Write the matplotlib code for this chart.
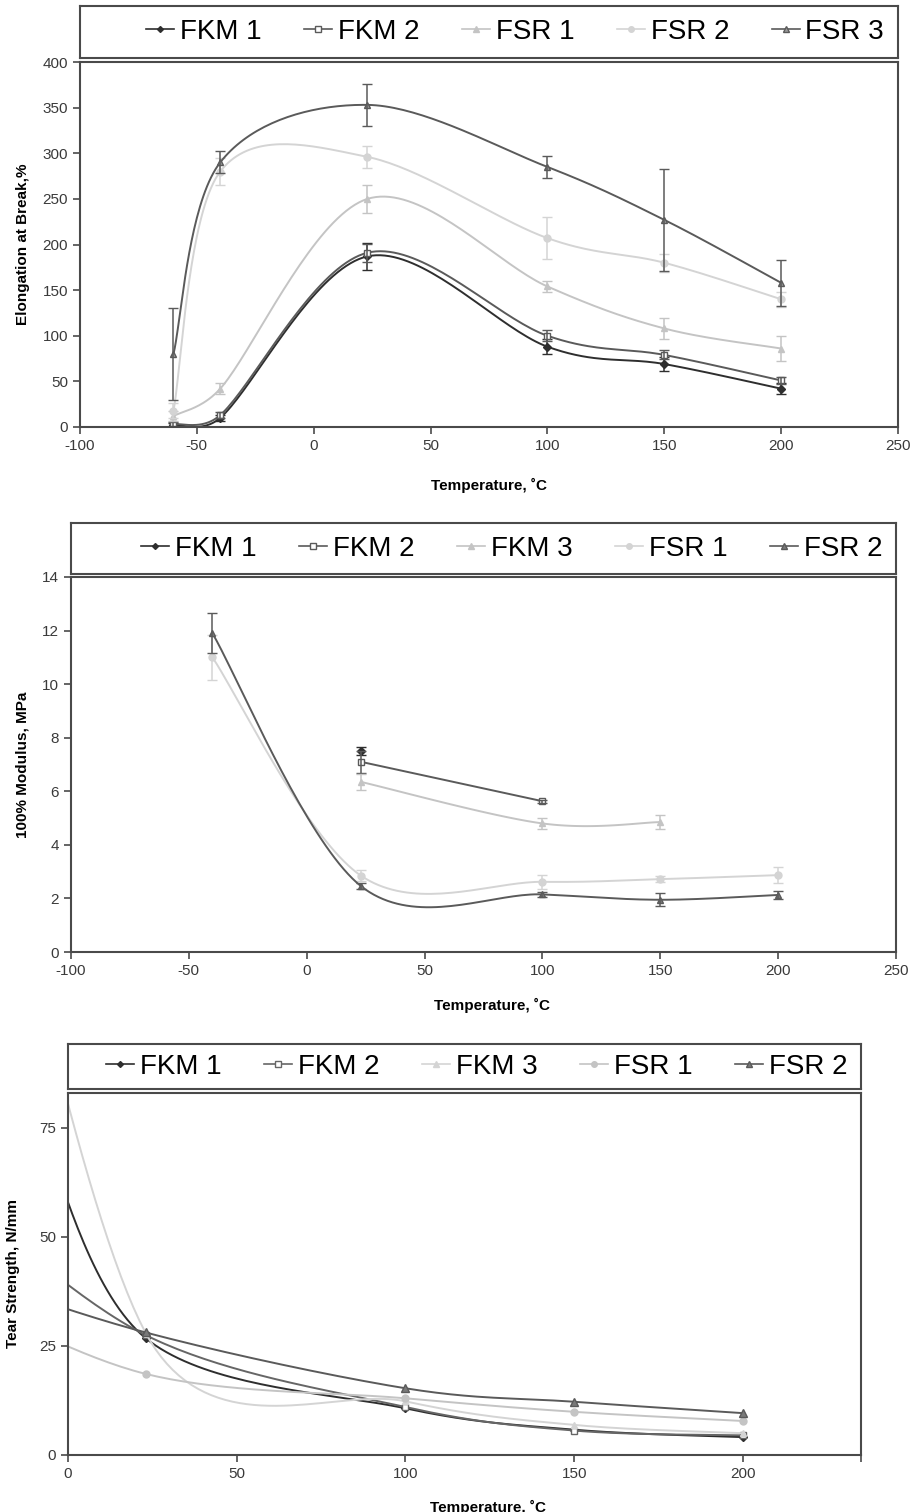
import numpy as np
import matplotlib
matplotlib.use("Agg")
import matplotlib.pyplot as plt
from matplotlib.lines import Line2D

plt.rcParams['font.family'] = ['Liberation Sans', 'DejaVu Sans']
plt.rcParams['axes.unicode_minus'] = False

# === data: elongation at break ===
elong_x = [-60, -40, 23, 100, 150, 200]
elong_names = ['FKM 1', 'FKM 2', 'FSR 1', 'FSR 2', 'FSR 3']
elong_fkm1 = [2, 10, 187, 88, 69, 42]
elong_fkm1_err = [2, 3, 15, 8, 8, 6]
elong_fkm2 = [3, 13, 191, 100, 79, 51]
elong_fkm2_err = [2, 3, 10, 6, 5, 4]
elong_fsr1 = [12, 42, 250, 154, 108, 86]
elong_fsr1_err = [5, 6, 15, 6, 12, 14]
elong_fsr2 = [18, 280, 296, 207, 180, 140]
elong_fsr2_err = [8, 15, 12, 23, 10, 8]
elong_fsr3 = [80, 290, 353, 285, 227, 158]
elong_fsr3_err = [50, 12, 23, 12, 56, 25]

# === data: 100% modulus ===
mod_names = ['FKM 1', 'FKM 2', 'FKM 3', 'FSR 1', 'FSR 2']
mod_fkm1_x = [23]
mod_fkm1 = [7.5]
mod_fkm1_err = [0.15]
mod_fkm2_x = [23, 100]
mod_fkm2 = [7.1, 5.63]
mod_fkm2_err = [0.4, 0.05]
mod_fkm3_x = [23, 100, 150]
mod_fkm3 = [6.35, 4.8, 4.85]
mod_fkm3_err = [0.3, 0.2, 0.25]
mod_fsr1_x = [-40, 23, 100, 150, 200]
mod_fsr1 = [11.0, 2.85, 2.62, 2.72, 2.87]
mod_fsr1_err = [0.85, 0.2, 0.25, 0.1, 0.3]
mod_fsr2_x = [-40, 23, 100, 150, 200]
mod_fsr2 = [11.9, 2.46, 2.15, 1.95, 2.13]
mod_fsr2_err = [0.75, 0.1, 0.1, 0.25, 0.15]

# === data: tear strength (first point sits left of the visible axis) ===
tear_names = ['FKM 1', 'FKM 2', 'FKM 3', 'FSR 1', 'FSR 2']
tear_fkm1_x = [-10, 23, 100, 150, 200]
tear_fkm1 = [80, 26.8, 10.7, 5.8, 4.1]
tear_fkm2_x = [-40, 23, 100, 150, 200]
tear_fkm2 = [65, 27.5, 11.0, 5.6, 4.5]
tear_fkm3_x = [-40, 23, 100, 150, 200]
tear_fkm3 = [215, 28.0, 12.3, 6.9, 5.0]
tear_fsr1_x = [-40, 23, 100, 150, 200]
tear_fsr1 = [40, 18.6, 13.0, 9.9, 7.8]
tear_fsr2_x = [-40, 23, 100, 150, 200]
tear_fsr2 = [44, 28.1, 15.3, 12.2, 9.6]

W, H = 915, 1512
DARK = '#2e2e2e'
MID = '#5a5a5a'
LIGHT = '#c4c4c4'
LIGHTER = '#d4d4d4'
SPINE = '#4a4a4a'


def rect(l, t, r, b):
    return [l / W, 1 - b / H, (r - l) / W, (b - t) / H]


def smooth(ax, x, y, n=40):
    # excel-like smoothed line, bezier control points worked out in pixel space
    p = np.column_stack([x, y]).astype(float)
    if len(p) < 3:
        return p[:, 0], p[:, 1]
    bb = ax.get_position()
    x0, x1 = ax.get_xlim()
    y0, y1 = ax.get_ylim()
    sc = np.array([bb.width * W / (x1 - x0), bb.height * H / (y1 - y0)])
    q = p * sc
    out = []
    t = np.linspace(0, 1, n)[:, None]
    for i in range(len(q) - 1):
        q0 = q[i - 1] if i > 0 else q[i]
        q1, q2 = q[i], q[i + 1]
        q3 = q[i + 2] if i + 2 < len(q) else q[i + 1]
        d12 = np.linalg.norm(q2 - q1)
        d02 = np.linalg.norm(q2 - q0)
        d13 = np.linalg.norm(q3 - q1)
        f1 = 1 / 6 if d02 / 6 < d12 / 2 else d12 / (2 * d02)
        f2 = 1 / 6 if d13 / 6 < d12 / 2 else d12 / (2 * d13)
        c1 = q1 + (q2 - q0) * f1
        c2 = q2 - (q3 - q1) * f2
        seg = (1 - t) ** 3 * q1 + 3 * (1 - t) ** 2 * t * c1 + 3 * (1 - t) * t ** 2 * c2 + t ** 3 * q2
        out.append(seg)
    out = np.vstack(out) / sc
    return out[:, 0], out[:, 1]


def style_axes(ax):
    for s in ax.spines.values():
        s.set_color(SPINE)
        s.set_linewidth(1.5)
    ax.tick_params(direction='out', length=5, width=1.2, color=SPINE,
                   labelsize=11, labelcolor='#3a3a3a')


def legend_box(rc, handles, labels):
    lax = fig.add_axes(rect(*rc))
    lax.set_xticks([])
    lax.set_yticks([])
    for s in lax.spines.values():
        s.set_color(SPINE)
        s.set_linewidth(1.5)
    lax.legend(handles, labels, loc='center right', ncol=5, frameon=False,
               fontsize=20, handlelength=1.0, handletextpad=0.2,
               columnspacing=1.55, borderaxespad=0.1)


def series(ax, x, y, err, color, marker, mfc, ms=5):
    xs, ys = smooth(ax, x, y)
    ax.plot(xs, ys, color=color, lw=1.4)
    ax.plot(x, y, ls='none', marker=marker, ms=ms, color=color, mfc=mfc, mec=color)
    if err is not None:
        ax.errorbar(x, y, yerr=err, fmt='none', ecolor=color, elinewidth=1.1, capsize=3.5)
    return Line2D([], [], color=color, lw=1.2, marker=marker, ms=ms - 1, mfc=mfc, mec=color)


fig = plt.figure(figsize=(W / 100, H / 100), dpi=100)

# === panel 1: elongation ===
ax1 = fig.add_axes(rect(80, 62, 898, 427))
ax1.set_xlim(-100, 250)
ax1.set_ylim(0, 400)
h = []
h.append(series(ax1, elong_x, elong_fkm1, elong_fkm1_err, DARK, 'D', DARK, 4))
h.append(series(ax1, elong_x, elong_fkm2, elong_fkm2_err, MID, 's', 'white'))
h.append(series(ax1, elong_x, elong_fsr1, elong_fsr1_err, LIGHT, '^', LIGHT))
h.append(series(ax1, elong_x, elong_fsr2, elong_fsr2_err, LIGHTER, 'o', LIGHTER))
h.append(series(ax1, elong_x, elong_fsr3, elong_fsr3_err, MID, '^', '#9a9a9a'))
ax1.set_xlim(-100, 250)
ax1.set_ylim(0, 400)
ax1.set_xticks(range(-100, 251, 50))
ax1.set_yticks(range(0, 401, 50))
style_axes(ax1)
ax1.set_ylabel('Elongation at Break,%', fontsize=11, fontweight='bold')
ax1.yaxis.set_label_coords(-0.061, 0.5)
ax1.set_xlabel('Temperature, ˚C', fontsize=11, fontweight='bold')
ax1.xaxis.set_label_coords(0.5, -0.14)
legend_box((80, 6, 898, 58), h, elong_names)

# === panel 2: modulus ===
ax2 = fig.add_axes(rect(71, 577, 896, 952))
ax2.set_xlim(-100, 250)
ax2.set_ylim(0, 14)
h = []
h.append(series(ax2, mod_fkm1_x, mod_fkm1, mod_fkm1_err, DARK, 'D', DARK, 4))
h.append(series(ax2, mod_fkm2_x, mod_fkm2, mod_fkm2_err, MID, 's', 'white'))
h.append(series(ax2, mod_fkm3_x, mod_fkm3, mod_fkm3_err, LIGHT, '^', LIGHT))
h.append(series(ax2, mod_fsr1_x, mod_fsr1, mod_fsr1_err, LIGHTER, 'o', LIGHTER))
h.append(series(ax2, mod_fsr2_x, mod_fsr2, mod_fsr2_err, MID, '^', '#7a7a7a'))
ax2.set_xlim(-100, 250)
ax2.set_ylim(0, 14)
ax2.set_xticks(range(-100, 251, 50))
ax2.set_yticks(range(0, 15, 2))
style_axes(ax2)
ax2.set_ylabel('100% Modulus, MPa', fontsize=11, fontweight='bold')
ax2.yaxis.set_label_coords(-0.05, 0.5)
ax2.set_xlabel('Temperature, ˚C', fontsize=11, fontweight='bold')
ax2.xaxis.set_label_coords(0.51, -0.123)
legend_box((71, 523, 896, 574), h, mod_names)

# === panel 3: tear strength ===
ax3 = fig.add_axes(rect(68, 1093, 861, 1455))
ax3.set_xlim(0, 235)
ax3.set_ylim(0, 83)
h = []
h.append(series(ax3, tear_fkm1_x, tear_fkm1, None, DARK, 'D', DARK, 4))
h.append(series(ax3, tear_fkm2_x, tear_fkm2, None, '#666666', 's', 'white'))
h.append(series(ax3, tear_fkm3_x, tear_fkm3, None, LIGHTER, '^', LIGHTER))
h.append(series(ax3, tear_fsr1_x, tear_fsr1, None, LIGHT, 'o', LIGHT))
h.append(series(ax3, tear_fsr2_x, tear_fsr2, None, MID, '^', '#7a7a7a', 6))
ax3.set_xlim(0, 235)
ax3.set_ylim(0, 83)
ax3.set_xticks([0, 50, 100, 150, 200, 235])
ax3.set_xticklabels(['0', '50', '100', '150', '200', ''])
ax3.set_yticks([0, 25, 50, 75])
style_axes(ax3)
ax3.set_ylabel('Tear Strength, N/mm', fontsize=11, fontweight='bold')
ax3.yaxis.set_label_coords(-0.06, 0.5)
ax3.set_xlabel('Temperature, ˚C', fontsize=11, fontweight='bold')
ax3.xaxis.set_label_coords(0.53, -0.124)
legend_box((68, 1044, 861, 1089), h, tear_names)

fig.savefig('out.png', dpi=100)
